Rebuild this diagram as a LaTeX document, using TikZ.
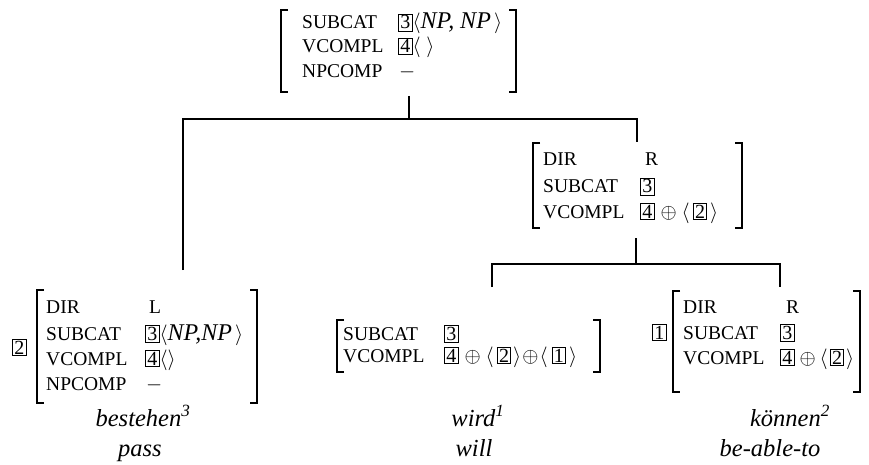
\documentclass[tikz,border=0pt]{standalone}
\usepackage{fontspec}
\setmainfont{Liberation Serif}
\newcommand\featf{\fontsize{19.5}{20}\selectfont}
\newcommand\valf{\fontsize{20}{22}\selectfont}
\newcommand\wordf{\fontsize{24.5}{26}\selectfont\itshape}
\newcommand\np[1]{{\fontsize{24}{26}\selectfont\itshape #1}}
\newcommand\tg[1]{{\fontsize{20}{20}\selectfont\setlength\fboxsep{1.4pt}\setlength\fboxrule{0.8pt}\fbox{#1}}}
\newcommand\avmbr[4]{%
  \draw[br] (#1+7,#3) -- (#1,#3) -- (#1,#4) -- (#1+7,#4);
  \draw[br] (#2-7,#3) -- (#2,#3) -- (#2,#4) -- (#2-7,#4);}
\tikzset{
  feat/.style={anchor=base west, inner sep=0pt, font=\featf},
  val/.style={anchor=base west, inner sep=0pt, font=\valf},
  word/.style={anchor=base, inner sep=0pt, font=\wordf},
  br/.style={line width=1.3pt},
  tree/.style={line width=1.7pt},
}
\begin{document}
\begin{tikzpicture}[x=1pt,y=-1pt]
\useasboundingbox (0,0) rectangle (869,465);
% ---------- top AVM
\avmbr{281}{516}{10}{92}
\node[feat] (t1f) at (302,29) {SUBCAT};
\node[val]  (t1v) at (398,29) {\tg{3}$\langle$\np{NP, NP}\,$\rangle$};
\node[feat] (t2f) at (302,53) {VCOMPL};
\node[val]  (t2v) at (398,53) {\tg{4}$\langle\;\rangle$};
\node[feat] (t3f) at (302,78) {NPCOMP};
\node[val]  (t3v) at (399,78) {$-$};
% ---------- mid AVM
\avmbr{533}{742}{143}{228}
\node[feat] (m1f) at (543,165) {DIR};
\node[feat] (m1v) at (645,165) {R};
\node[feat] (m2f) at (543,193) {SUBCAT};
\node[val]  (m2v) at (640,193) {\tg{3}};
\node[feat] (m3f) at (543,218) {VCOMPL};
\node[val]  (m3v) at (640,218) {\tg{4}\hspace{6pt}$\oplus$\hspace{5pt}$\langle$\hspace{3pt}\tg{2}\hspace{3pt}$\rangle$};
% ---------- left AVM
\node[val] (tagL) at (12,354) {\tg{2}};
\avmbr{37}{257}{290}{403}
\node[feat] (l1f) at (46,313) {DIR};
\node[feat] (l1v) at (149,313) {L};
\node[feat] (l2f) at (46,340) {SUBCAT};
\node[val]  (l2v) at (145,340) {\tg{3}$\langle$\np{NP,NP}\,$\rangle$};
\node[feat] (l3f) at (46,365) {VCOMPL};
\node[val]  (l3v) at (145,365) {\tg{4}$\langle\rangle$};
\node[feat] (l4f) at (46,390) {NPCOMP};
\node[val]  (l4v) at (146,390) {$-$};
\node[word] (wL1) at (143,426) {bestehen\textsuperscript{3}};
\node[word] (wL2) at (140,456) {pass};
% ---------- middle AVM
\avmbr{337}{600}{320}{372}
\node[feat] (c1f) at (343,340) {SUBCAT};
\node[val]  (c1v) at (444,340) {\tg{3}};
\node[feat] (c2f) at (343,362) {VCOMPL};
\node[val]  (c2v) at (444,362) {\tg{4}\hspace{6pt}$\oplus$\hspace{5pt}$\langle$\hspace{3pt}\tg{2}\hspace{2pt}$\rangle\!\oplus\!\langle$\hspace{4pt}\tg{1}\hspace{3pt}$\rangle$};
\node[word] (wC1) at (478,426) {wird\textsuperscript{1}};
\node[word] (wC2) at (474,456) {will};
% ---------- right AVM
\node[val] (tagR) at (652,339) {\tg{1}};
\avmbr{673}{860}{291}{392}
\node[feat] (r1f) at (683,313) {DIR};
\node[feat] (r1v) at (786,313) {R};
\node[feat] (r2f) at (683,339) {SUBCAT};
\node[val]  (r2v) at (780,339) {\tg{3}};
\node[feat] (r3f) at (683,364) {VCOMPL};
\node[val]  (r3v) at (780,364) {\tg{4}\hspace{5pt}$\oplus$\hspace{4pt}$\langle$\hspace{2pt}\tg{2}\hspace{2pt}$\rangle$};
\node[word] (wR1) at (790,426) {können\textsuperscript{2}};
\node[word] (wR2) at (770,456) {be-able-to};
% ---------- tree
\coordinate (s0) at (409,96);
\coordinate (j0) at (409,119);
\coordinate (lA) at (183,270);
\coordinate (rA) at (637,142);
\coordinate (s1) at (636,238);
\coordinate (j1) at (636,264);
\coordinate (lB) at (492,287);
\coordinate (rB) at (780,287);
\draw[tree] (s0) -- (j0);
\draw[tree] (lA) |- (j0) -| (rA);
\draw[tree] (s1) -- (j1);
\draw[tree] (lB) |- (j1) -| (rB);
\end{tikzpicture}
\end{document}
